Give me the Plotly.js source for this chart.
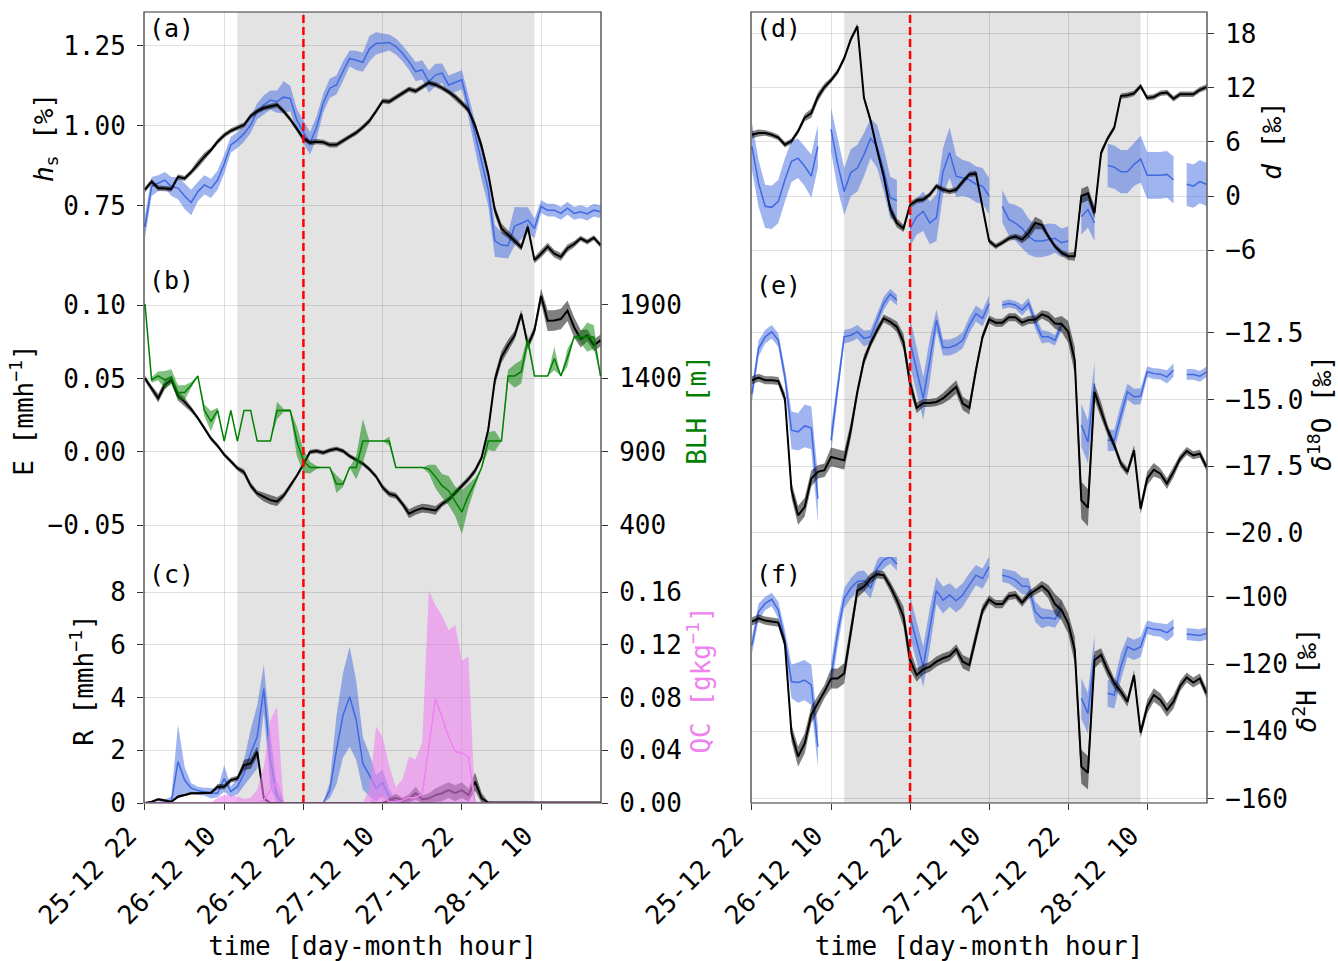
<!DOCTYPE html>
<html><head><meta charset="utf-8">
<script src="https://cdn.plot.ly/plotly-3.0.1.min.js"></script>
<style>html,body{margin:0;padding:0;background:#fff}</style>
</head><body><div id="chart" style="width:1338px;height:961px"></div>
<script>
// ---------------- data ----------------
const HOURS = [0,1,2,3,4,5,6,7,8,9,10,11,12,13,14,15,16,17,18,19,20,21,22,23,24,25,26,27,28,29,30,31,32,33,34,35,36,37,38,39,40,41,42,43,44,45,46,47,48,49,50,51,52,53,54,55,56,57,58,59,60,61,62,63,64,65,66,67,68,69];
const TICK_HOURS = [0,12,24,36,48,60];
const TICK_LABELS = ["25-12 22","26-12 10","26-12 22","27-12 10","27-12 22","28-12 10"];
const SHADE_START = 14, SHADE_END = 59, EVENT_HOUR = 24;

// (a) specific humidity hs [%]
const A_OBS = [0.684,0.81,0.82,0.83,0.81,0.805,0.78,0.76,0.794,0.815,0.804,0.83,0.88,0.94,0.955,0.975,1.002,1.045,1.065,1.08,1.075,1.089,1.085,1.018,0.98,0.945,0.995,1.07,1.117,1.127,1.17,1.21,1.204,1.198,1.24,1.257,1.258,1.26,1.247,1.226,1.2,1.169,1.174,1.1375,1.158,1.164,1.127,1.135,1.143,1.06,0.97,0.88,0.80,0.64,0.627,0.625,0.686,0.695,0.705,0.679,0.747,0.736,0.736,0.726,0.742,0.726,0.731,0.724,0.736,0.731];
const A_OBS_SD = [0.035,0.03,0.025,0.025,0.03,0.035,0.04,0.04,0.03,0.03,0.03,0.03,0.03,0.025,0.025,0.025,0.025,0.025,0.03,0.03,0.035,0.05,0.04,0.035,0.035,0.035,0.035,0.03,0.03,0.03,0.03,0.025,0.03,0.03,0.04,0.035,0.03,0.025,0.025,0.025,0.025,0.03,0.03,0.035,0.035,0.03,0.03,0.03,0.03,0.035,0.045,0.05,0.05,0.05,0.04,0.04,0.06,0.05,0.04,0.03,0.02,0.02,0.02,0.02,0.02,0.02,0.02,0.02,0.02,0.02];
const A_MOD = [0.80,0.825,0.805,0.803,0.802,0.84,0.835,0.855,0.88,0.903,0.924,0.95,0.97,0.984,0.993,1.002,1.03,1.045,1.055,1.06,1.065,1.045,1.02,0.99,0.96,0.947,0.95,0.948,0.94,0.94,0.952,0.966,0.978,0.995,1.015,1.045,1.077,1.075,1.088,1.1,1.114,1.108,1.12,1.134,1.128,1.118,1.105,1.09,1.07,1.049,1.0,0.935,0.85,0.736,0.679,0.66,0.64,0.62,0.684,0.58,0.60,0.622,0.60,0.59,0.617,0.63,0.648,0.637,0.65,0.627];
const A_MOD_SD = [0.008,0.008,0.008,0.008,0.008,0.008,0.008,0.008,0.012,0.012,0.008,0.008,0.008,0.008,0.008,0.008,0.008,0.008,0.008,0.008,0.008,0.008,0.008,0.008,0.008,0.008,0.008,0.008,0.008,0.008,0.008,0.008,0.008,0.008,0.008,0.008,0.008,0.008,0.008,0.008,0.008,0.008,0.008,0.008,0.008,0.008,0.008,0.01,0.01,0.01,0.012,0.015,0.015,0.015,0.015,0.012,0.01,0.01,0.01,0.01,0.012,0.012,0.012,0.012,0.012,0.01,0.008,0.008,0.008,0.008];

// (b) evaporation E [mm/h] and boundary layer height BLH [m]
const E_MOD = [0.050,0.0432,0.0365,0.0455,0.0489,0.038,0.034,0.029,0.023,0.016,0.009,0.004,-0.002,-0.0065,-0.0113,-0.014,-0.023,-0.0285,-0.031,-0.033,-0.034,-0.030,-0.0232,-0.0164,-0.0086,-0.0002,0.0005,-0.0007,0.001,0.002,0.0005,-0.003,-0.0056,-0.0081,-0.012,-0.0169,-0.0243,-0.0288,-0.030,-0.0356,-0.0423,-0.040,-0.0385,-0.039,-0.040,-0.0356,-0.0327,-0.028,-0.0232,-0.0187,-0.013,-0.004,0.015,0.0489,0.0646,0.0725,0.0793,0.0939,0.0725,0.0827,0.1063,0.0894,0.0895,0.0905,0.0962,0.0849,0.077,0.0793,0.0725,0.0759];
const E_MOD_SD = [0.002,0.002,0.003,0.003,0.002,0.003,0.003,0.002,0.0015,0.0015,0.0015,0.0015,0.0015,0.0015,0.0015,0.002,0.002,0.002,0.003,0.003,0.003,0.002,0.002,0.0015,0.0015,0.0015,0.0015,0.0015,0.0015,0.0015,0.0015,0.0015,0.0015,0.0015,0.0015,0.0015,0.002,0.002,0.002,0.002,0.003,0.003,0.003,0.003,0.003,0.002,0.002,0.002,0.002,0.002,0.002,0.002,0.003,0.004,0.004,0.004,0.003,0.003,0.003,0.003,0.005,0.007,0.007,0.007,0.007,0.007,0.006,0.004,0.004,0.004];
const BLH = [1907,1389,1416,1389,1411,1303,1303,1355,1416,1181,1107,1181,972,1181,972,1181,1181,972,972,972,1181,1181,1181,972,837,792,792,792,792,679,679,792,792,972,972,972,972,972,792,792,792,792,792,781,730,668,634,560,488,600,690,792,972,972,972,1416,1416,1445,1659,1416,1416,1416,1535,1416,1540,1681,1681,1681,1681,1416];
const BLH_SD = [0,20,30,60,50,50,50,20,0,40,70,20,10,10,10,0,0,0,0,0,60,10,10,100,80,40,10,0,0,60,20,0,80,150,0,0,0,30,0,0,0,0,0,30,80,80,100,100,150,80,30,0,60,70,0,40,80,80,40,0,0,0,80,0,60,0,40,100,80,0];

// (c) rain R [mm/h] and cloud water QC [g/kg]
const R_OBS = [0,0,0,0.02,0.05,1.57,0.87,0.56,0.47,0.43,0.37,0.37,0.93,0.43,0.62,1.12,1.88,2.51,4.34,1.63,0.24,0,0,0,0,0,0,0,0.49,2.0,3.33,4.03,3.14,1.5,1.06,0.56,0.77,0.24,0.02,0,0,0,0,0,0,0,0,0,0,0,0,0,0,0,0,0,0,0,0,0,0,0,0,0,0,0,0,0,0,0];
const R_OBS_SD = [0.03,0.05,0.05,0.1,0.2,1.4,0.5,0.2,0.15,0.15,0.2,0.15,0.5,0.2,0.3,0.5,0.9,1.2,0.9,1.0,0.3,0.05,0,0,0,0,0,0,0.3,1.3,1.6,1.9,1.5,1.0,0.8,0.5,0.5,0.3,0.05,0,0,0,0,0,0,0,0,0,0,0,0,0,0,0,0,0,0,0,0,0,0,0,0,0,0,0,0,0,0,0];
const R_MOD = [0,0.05,0.14,0.1,0.05,0.24,0.3,0.37,0.37,0.37,0.39,0.62,0.62,0.87,0.93,1.44,1.5,1.94,0.18,0,0,0,0,0,0,0,0,0,0,0,0,0,0,0,0,0,0,0.1,0.2,0.1,0.17,0.37,0.14,0.17,0.3,0.37,0.49,0.37,0.49,0.3,0.81,0.18,0.02,0.02,0.02,0.02,0.02,0.02,0.02,0.02,0.02,0.02,0.02,0.02,0.02,0.02,0.02,0.02,0.02,0.02];
const R_MOD_SD = [0,0.03,0.05,0.05,0.03,0.05,0.05,0.05,0.05,0.05,0.05,0.1,0.1,0.1,0.1,0.2,0.2,0.2,0.1,0,0,0,0,0,0,0,0,0,0,0,0,0,0,0,0,0,0,0.1,0.15,0.1,0.15,0.25,0.15,0.2,0.25,0.3,0.3,0.3,0.3,0.25,0.35,0.2,0.03,0.02,0.02,0.02,0.02,0.02,0.02,0.02,0.02,0.02,0.02,0.02,0.02,0.02,0.02,0.02,0.02,0.02];
const QC_MOD = [0,0,0,0,0,0,0,0,0,0,0,0,0,0,0,0,0,0,0.002,0.01,0.015,0,0,0,0,0,0,0,0,0,0,0,0,0,0,0.004,0.005,0.001,0.001,0.002,0.004,0.004,0.007,0.043,0.079,0.065,0.05,0.039,0.038,0.035,0,0,0,0,0,0,0,0,0,0,0,0,0,0,0,0,0,0,0,0];
const QC_MAX = [0,0,0,0,0,0,0,0,0,0,0,0.004,0.006,0.006,0.005,0.003,0.004,0.01,0.0275,0.063,0.073,0,0,0,0,0,0,0,0,0,0,0,0,0,0.01,0.058,0.05,0.028,0.012,0.018,0.035,0.033,0.046,0.161,0.15,0.142,0.131,0.135,0.108,0.111,0,0,0,0,0,0,0,0,0,0,0,0,0,0,0,0,0,0,0,0];

// (d) deuterium excess d [permil]
const D_OBS = [5.5,1.4,-1.15,-1.26,-0.6,1.8,3.85,4.2,3.3,2.2,5.5,null,7.4,3.6,0.5,2.6,3.1,4.6,6.4,5.5,2.9,-0.2,-0.5,null,-3.6,-2.3,-1.7,-3.0,-2.4,2.7,4.8,2.2,2.0,1.8,1.3,1.1,0.0,null,-1.15,-2.6,-3.0,-3.6,-4.5,-5.0,-5.0,-4.85,-4.7,-5.2,-5.0,null,-2.3,-1.5,-3.0,null,3.4,3.2,2.7,2.7,3.5,4.1,2.3,2.3,2.3,2.4,1.8,null,1.3,1.1,1.6,1.3];
const D_OBS_SD = [2.6,2.6,2.4,2.4,2.4,2.4,2.3,2.2,2.2,2.4,2.4,null,2.4,2.8,2.6,2.6,2.6,2.4,2.2,2.4,2.4,2.3,2.3,null,2.0,2.0,2.2,2.4,2.6,2.6,2.8,2.3,2.0,2.0,2.0,2.0,2.0,null,1.8,1.8,2.0,2.2,2.0,1.8,1.8,1.8,1.6,1.6,1.6,null,2.0,2.0,2.0,null,2.4,2.4,2.4,2.4,2.4,2.6,2.6,2.6,2.6,2.6,2.6,null,2.4,2.4,2.4,2.4];
const D_MOD = [6.8,7.0,7.0,6.8,6.5,5.7,6.1,7.2,8.7,9.2,11.0,12.1,12.85,13.8,15.3,17.4,18.85,10.9,8.4,5.1,2.2,-1.5,-3.0,-3.6,-1.0,-0.5,-0.4,0.15,1.1,0.7,0.5,0.7,1.6,2.4,2.5,-1.2,-5.0,-5.6,-5.2,-4.7,-4.5,-4.85,-4.1,-3.0,-3.2,-4.5,-5.6,-6.3,-6.7,-6.7,0.0,0.3,-1.9,4.8,6.4,7.6,11.1,11.2,11.4,12.2,10.9,11.0,11.4,11.5,10.8,11.3,11.3,11.3,11.8,12.1];
const D_MOD_SD = [0.4,0.4,0.3,0.3,0.3,0.3,0.3,0.3,0.4,0.5,0.5,0.4,0.3,0.3,0.3,0.3,0.3,0.3,0.4,0.4,0.5,0.6,0.5,0.4,0.4,0.3,0.3,0.3,0.3,0.3,0.3,0.3,0.3,0.3,0.3,0.3,0.3,0.3,0.3,0.3,0.3,0.4,0.6,0.7,0.5,0.3,0.3,0.3,0.4,0.5,0.8,0.8,0.6,0.4,0.3,0.3,0.3,0.3,0.3,0.3,0.3,0.3,0.3,0.3,0.3,0.3,0.3,0.3,0.3,0.3];

// (e) delta 18O [permil]
const O18_OBS = [-14.78,-13.09,-12.65,-12.46,-12.78,-14.15,-16.15,-16.21,-15.99,-16.06,-18.71,null,-16.53,-14.53,-12.65,-12.59,-12.46,-12.71,-12.65,-12.03,-11.4,-11.05,-11.28,null,-12.84,-13.9,-14.96,-13.53,-12.03,-13.05,-13.05,-12.96,-12.78,-12.21,-11.78,-11.96,-11.4,null,-11.46,-11.4,-11.46,-11.65,-11.4,-12.09,-12.65,-12.65,-12.78,-12.21,null,null,-15.96,-16.59,-14.4,null,-16.53,-16.53,-15.59,-14.71,-14.9,-14.88,-13.96,-14.03,-14.05,-14.15,-13.9,null,-14.06,-14.06,-14.13,-13.96];
const O18_OBS_SD = [0.3,0.3,0.25,0.25,0.25,0.3,0.7,0.7,0.8,0.8,0.9,null,0.5,0.4,0.25,0.25,0.25,0.3,0.25,0.25,0.25,0.2,0.2,null,0.9,0.8,0.8,0.8,0.4,0.3,0.3,0.3,0.3,0.3,0.3,0.3,0.3,null,0.15,0.15,0.15,0.2,0.2,0.25,0.25,0.2,0.2,0.2,null,null,0.8,0.8,0.8,null,0.4,0.4,0.4,0.3,0.3,0.3,0.2,0.2,0.2,0.25,0.25,null,0.2,0.2,0.2,0.2];
const O18_MOD = [-14.28,-14.18,-14.28,-14.28,-14.31,-14.96,-18.4,-19.34,-19.03,-17.96,-17.71,-17.65,-17.15,-17.21,-17.28,-16.15,-14.71,-13.53,-12.9,-12.4,-11.96,-12.09,-12.28,-12.84,-14.4,-15.31,-15.13,-15.13,-15.09,-14.96,-14.75,-14.53,-15.15,-15.31,-13.9,-12.65,-12.0,-12.12,-12.12,-11.92,-11.92,-12.12,-12.02,-12.0,-11.81,-11.9,-12.15,-12.17,-12.46,-13.53,-18.78,-19.05,-14.71,-15.4,-16.15,-16.71,-17.4,-17.71,-16.9,-19.09,-17.96,-17.63,-17.78,-18.15,-17.71,-17.21,-16.93,-17.09,-17.03,-17.53];
const O18_MOD_SD = [0.15,0.15,0.15,0.15,0.15,0.2,0.3,0.35,0.35,0.3,0.25,0.25,0.35,0.35,0.35,0.3,0.2,0.2,0.15,0.15,0.15,0.15,0.2,0.3,0.3,0.2,0.15,0.15,0.15,0.2,0.25,0.25,0.25,0.25,0.2,0.15,0.15,0.15,0.15,0.15,0.15,0.15,0.15,0.15,0.15,0.2,0.2,0.3,0.4,0.5,0.7,0.7,0.3,0.3,0.2,0.15,0.15,0.15,0.2,0.2,0.25,0.25,0.2,0.2,0.2,0.15,0.15,0.15,0.15,0.15];

// (f) delta 2H [permil]
const H2_OBS = [-114.4,-104.5,-102.0,-100.8,-104.0,-112.9,-125.2,-125.5,-124.8,-126.2,-144.6,null,-123.8,-110.9,-100.5,-97.5,-95.5,-95.2,-97.5,-91.6,-89.1,-88.1,-90.3,null,-105.9,-113.4,-120.8,-109.4,-98.2,-101.0,-99.5,-101.2,-99.5,-96.5,-93.6,-94.6,-91.1,null,-93.6,-94.1,-95.0,-96.8,-97.0,-104.5,-106.4,-106.2,-106.7,-103.5,null,null,-130.2,-134.7,-117.3,null,-128.7,-129.2,-120.8,-114.9,-115.8,-114.9,-109.1,-109.7,-109.9,-110.7,-109.1,null,-111.1,-111.4,-111.5,-110.9];
const H2_OBS_SD = [2.5,2.5,2,2,2.5,3,5,6,6,6,6,null,4,4,3,3,3,3,3,2.5,2.5,2,2,null,6,6,6,6,4,4,3.5,3.5,3.5,3.5,3,3,3,null,2,2,2.5,2.5,2.5,3,3,2.5,2.5,2.5,null,null,6,6,6,null,4,4,4,3,3,3,2,2,2,2.5,2.5,null,1.8,1.8,1.8,1.8];
const H2_MOD = [-107.4,-106.4,-107.1,-107.4,-107.7,-113.9,-140.6,-147.5,-143.6,-135.1,-131.7,-128.2,-124.3,-124.3,-122.8,-110.9,-98.2,-97.0,-94.6,-93.3,-93.6,-97.0,-101.0,-105.9,-118.8,-123.3,-121.6,-120.8,-119.3,-118.3,-117.6,-115.6,-119.3,-120.3,-111.9,-104.0,-100.8,-102.2,-102.2,-99.8,-99.5,-101.8,-99.5,-98.2,-96.8,-98.5,-102.2,-104.0,-107.9,-115.8,-150.5,-152.3,-118.8,-117.3,-121.8,-125.7,-128.2,-131.2,-123.3,-140.4,-132.7,-129.2,-130.7,-133.7,-131.2,-126.5,-124.0,-125.5,-124.3,-128.7];
const H2_MOD_SD = [1.2,1.2,1.2,1.2,1.2,1.5,2.5,3,3,2.5,2.5,2,3,3,3,2.5,2,1.5,1.5,1.2,1.2,1.5,2,3,3,2,1.5,1.5,1.5,1.5,1.5,1.5,2,2,2,1.5,1.2,1.2,1.2,1.2,1.2,1.2,1.2,1.2,1.5,2,3,3,3,4,5,5,2.5,2,2,1.5,1.5,1.5,1.5,1.5,2,2,2,2,2,1.5,1.5,1.5,1.5,1.5];

// ---------------- styling ----------------
const BLUE = '#4169e1', BLUE_FILL = 'rgba(65,105,225,0.5)';
const BLACK = '#000000', GRAY_FILL = 'rgba(0,0,0,0.5)';
const GREEN = '#008000', GREEN_FILL = 'rgba(0,128,0,0.5)';
const PINK = '#ee82ee', PINK_FILL = 'rgba(238,130,238,0.6)';
const FONT = {family: 'DejaVu Sans Mono', size: 26, color: '#000'};
const GRID = 'rgba(0,0,0,0.12)';

function band(x, y, s, color, xa, ya, clampZero) {
  const out = []; let seg = [];
  const flush = () => {
    if (seg.length) {
      const xs = seg.map(i => x[i]);
      const up = seg.map(i => y[i] + s[i]);
      const dn = seg.map(i => { const v = y[i] - s[i]; return clampZero && v < 0 ? 0 : v; });
      out.push({x: xs.concat(xs.slice().reverse()), y: up.concat(dn.reverse()), fill: 'toself',
        fillcolor: color, line: {width: 0}, mode: 'lines', xaxis: xa, yaxis: ya, hoverinfo: 'skip', showlegend: false});
    }
    seg = [];
  };
  for (let i = 0; i < x.length; i++) { if (y[i] === null) flush(); else seg.push(i); }
  flush();
  return out;
}
function line(x, y, color, w, xa, ya) {
  return {x, y, mode: 'lines', line: {color, width: w}, connectgaps: false, xaxis: xa, yaxis: ya, showlegend: false};
}

const traces = [].concat(
  band(HOURS, A_OBS, A_OBS_SD, BLUE_FILL, 'x', 'y'), [line(HOURS, A_OBS, BLUE, 1.5, 'x', 'y')],
  band(HOURS, A_MOD, A_MOD_SD, GRAY_FILL, 'x', 'y'), [line(HOURS, A_MOD, BLACK, 2, 'x', 'y')],
  band(HOURS, E_MOD, E_MOD_SD, GRAY_FILL, 'x2', 'y2'), [line(HOURS, E_MOD, BLACK, 2, 'x2', 'y2')],
  band(HOURS, BLH, BLH_SD, GREEN_FILL, 'x2', 'y3'), [line(HOURS, BLH, GREEN, 1.5, 'x2', 'y3')],
  band(HOURS, R_OBS, R_OBS_SD, BLUE_FILL, 'x3', 'y4', true), [line(HOURS, R_OBS, BLUE, 1.5, 'x3', 'y4')],
  band(HOURS, R_MOD, R_MOD_SD, GRAY_FILL, 'x3', 'y4', true), [line(HOURS, R_MOD, BLACK, 2, 'x3', 'y4')],
  [{x: HOURS, y: QC_MAX, mode: 'lines', fill: 'tozeroy', fillcolor: PINK_FILL, line: {width: 0}, xaxis: 'x3', yaxis: 'y5', showlegend: false},
   line(HOURS, QC_MOD, PINK, 1.5, 'x3', 'y5')],
  band(HOURS, D_OBS, D_OBS_SD, BLUE_FILL, 'x4', 'y6'), [line(HOURS, D_OBS, BLUE, 1.5, 'x4', 'y6')],
  band(HOURS, D_MOD, D_MOD_SD, GRAY_FILL, 'x4', 'y6'), [line(HOURS, D_MOD, BLACK, 2, 'x4', 'y6')],
  band(HOURS, O18_OBS, O18_OBS_SD, BLUE_FILL, 'x5', 'y7'), [line(HOURS, O18_OBS, BLUE, 1.5, 'x5', 'y7')],
  band(HOURS, O18_MOD, O18_MOD_SD, GRAY_FILL, 'x5', 'y7'), [line(HOURS, O18_MOD, BLACK, 2, 'x5', 'y7')],
  band(HOURS, H2_OBS, H2_OBS_SD, BLUE_FILL, 'x6', 'y8'), [line(HOURS, H2_OBS, BLUE, 1.5, 'x6', 'y8')],
  band(HOURS, H2_MOD, H2_MOD_SD, GRAY_FILL, 'x6', 'y8'), [line(HOURS, H2_MOD, BLACK, 2, 'x6', 'y8')]
);

// ---------------- layout geometry (pixels -> paper) ----------------
const W = 1338, H = 961;
const px = v => v / W, py = v => 1 - v / H;
const LEFT = [px(144), px(601)], RIGHT = [px(751), px(1207)];
const TOP = py(12), BOT = py(803);
const ROW_A = [py(263), py(12)], ROW_B = [py(557), py(263)], ROW_C = [py(803), py(557)];
const ROW_D = [py(269), py(12)], ROW_E = [py(557), py(269)], ROW_F = [py(803), py(557)];
const XRANGE = [-0.15, 69.08];

function xax(domain, anchor, bottom) {
  const a = {domain, anchor, range: XRANGE, showgrid: true, gridcolor: GRID, gridwidth: 1, zeroline: false, showline: false,
    tickmode: 'array', tickvals: TICK_HOURS, showticklabels: bottom,
    ticks: bottom ? 'outside' : '', ticklen: 6, tickcolor: '#333', automargin: false};
  if (bottom) {
    Object.assign(a, {ticktext: TICK_LABELS, tickangle: -45, tickfont: FONT, ticklabelshift: -16});
    a.title = {text: 'time [day-month hour]', font: FONT, standoff: 8};
  }
  return a;
}
function yax(domain, anchor, range, vals, texts, title, side, opts) {
  return Object.assign({domain, anchor, range, side, showgrid: true, gridcolor: GRID, gridwidth: 1, zeroline: false, showline: false,
    tickmode: 'array', tickvals: vals, ticktext: texts, ticks: 'outside', ticklen: 6, tickcolor: '#333',
    tickfont: FONT, ticklabelstandoff: 6, automargin: false,
    title: {text: title, font: FONT, standoff: 6}}, opts || {});
}

const shapes = [];
[['x', LEFT], ['x4', RIGHT]].forEach(([xr, dom]) => {
  shapes.push({type: 'rect', xref: xr, yref: 'paper', x0: SHADE_START, x1: SHADE_END, y0: BOT, y1: TOP,
    fillcolor: 'rgba(128,128,128,0.22)', line: {width: 0}, layer: 'below'});
  shapes.push({type: 'line', xref: xr, yref: 'paper', x0: EVENT_HOUR, x1: EVENT_HOUR, y0: BOT, y1: TOP,
    line: {color: 'red', width: 2.5, dash: '8px,4px'}});
  shapes.push({type: 'rect', xref: 'paper', yref: 'paper', x0: dom[0], x1: dom[1], y0: BOT, y1: TOP,
    line: {color: '#333', width: 1.2}, fillcolor: 'rgba(0,0,0,0)'});
});

const PANEL_FONT = {family: 'DejaVu Sans Mono', size: 25, color: '#000'};
const panelLabels = [['(a)', 147, 29], ['(b)', 147, 280], ['(c)', 147, 574], ['(d)', 754, 29], ['(e)', 754, 286], ['(f)', 754, 574]]
  .map(([t, x, y]) => ({text: t, xref: 'paper', yref: 'paper', x: px(x), y: py(y), xanchor: 'left', yanchor: 'middle', showarrow: false, font: PANEL_FONT}));

const layout = {
  width: W, height: H, margin: {l: 0, r: 0, t: 0, b: 0}, paper_bgcolor: '#fff', plot_bgcolor: 'rgba(0,0,0,0)',
  showlegend: false, font: FONT,
  xaxis: xax(LEFT, 'y', false),
  xaxis2: xax(LEFT, 'y2', false),
  xaxis3: xax(LEFT, 'y4', true),
  xaxis4: xax(RIGHT, 'y6', false),
  xaxis5: xax(RIGHT, 'y7', false),
  xaxis6: xax(RIGHT, 'y8', true),
  yaxis: yax(ROW_A, 'x', [0.571, 1.355], [0.75, 1.0, 1.25], ['0.75', '1.00', '1.25'], '<i>h</i><sub>s</sub> [%]', 'left',
    {title: {text: '<i>h</i><sub>s</sub> [%]', font: FONT, standoff: 2}}),
  yaxis2: yax(ROW_B, 'x2', [-0.0718, 0.1287], [-0.05, 0, 0.05, 0.10], ['\u22120.05', '0.00', '0.05', '0.10'], 'E [mmh<sup>\u22121</sup>]', 'left'),
  yaxis3: yax(ROW_B, 'x2', [182, 2186], [400, 900, 1400, 1900], ['400', '900', '1400', '1900'], 'BLH [m]', 'right',
    {overlaying: 'y2', showgrid: false, title: {text: 'BLH [m]', font: Object.assign({}, FONT, {color: GREEN}), standoff: 4}}),
  yaxis4: yax(ROW_C, 'x3', [0, 9.33], [0, 2, 4, 6, 8], ['0', '2', '4', '6', '8'], 'R [mmh<sup>\u22121</sup>]', 'left',
    {title: {text: 'R [mmh<sup>\u22121</sup>]', font: FONT, standoff: 9}}),
  yaxis5: yax(ROW_C, 'x3', [0, 0.1866], [0, 0.04, 0.08, 0.12, 0.16], ['0.00', '0.04', '0.08', '0.12', '0.16'], 'QC [gkg<sup>\u22121</sup>]', 'right',
    {overlaying: 'y4', showgrid: false, title: {text: 'QC [gkg<sup>\u22121</sup>]', font: Object.assign({}, FONT, {color: PINK}), standoff: 8}}),
  yaxis6: yax(ROW_D, 'x4', [-8.11, 20.44], [-6, 0, 6, 12, 18], ['\u22126', '0', '6', '12', '18'], '<i>d</i> [\u2030]', 'right',
    {title: {text: '<i>d</i> [\u2030]', font: FONT, standoff: 4}}),
  yaxis7: yax(ROW_E, 'x5', [-20.9, -10.11], [-20, -17.5, -15, -12.5], ['\u221220.0', '\u221217.5', '\u221215.0', '\u221212.5'], '<i>\u03b4</i><sup>18</sup>O [\u2030]', 'right',
    {title: {text: '<i>\u03b4</i><sup>18</sup>O [\u2030]', font: FONT, standoff: 8}}),
  yaxis8: yax(ROW_F, 'x6', [-161.3, -88.2], [-160, -140, -120, -100], ['\u2212160', '\u2212140', '\u2212120', '\u2212100'], '<i>\u03b4</i><sup>2</sup>H [\u2030]', 'right'),
  shapes, annotations: panelLabels
};

Plotly.newPlot('chart', traces, layout, {staticPlot: true, displayModeBar: false});
</script>
</body></html>
